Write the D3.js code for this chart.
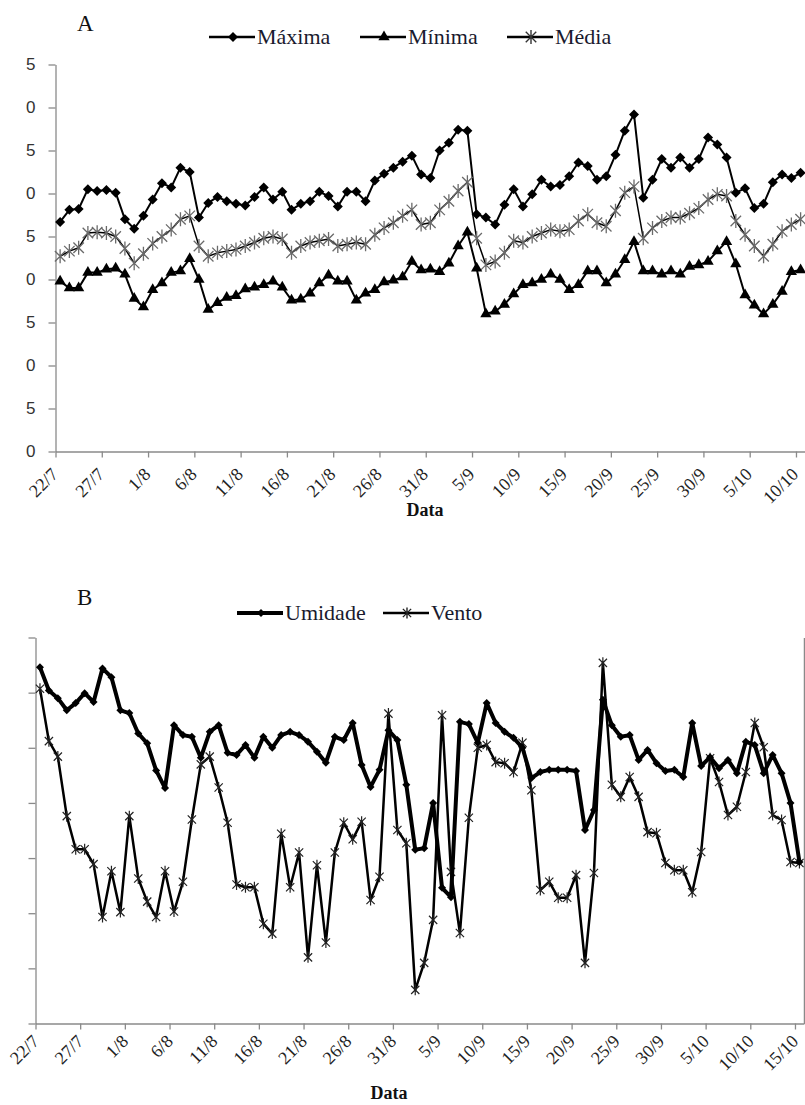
<!DOCTYPE html>
<html><head><meta charset="utf-8">
<script src="https://cdn.jsdelivr.net/npm/d3@7"></script>
<style>body{margin:0;background:#fff}svg{display:block}</style>
</head><body>
<svg id="c" width="805" height="1105"></svg>
<script>
// ---------- DATA ----------
const year = 2010;
const startLabel = "22/7";
const seriesA = ["Máxima", "Mínima", "Média"];
const seriesB = ["Umidade", "Vento"];
const maxima = [26.7,28.1,28.2,30.5,30.3,30.4,30.1,27.0,25.9,27.4,29.3,31.2,30.7,33.0,32.5,27.2,28.9,29.6,29.1,28.8,
  28.6,29.6,30.7,29.3,30.2,28.1,28.8,29.1,30.2,29.7,28.5,30.2,30.2,29.1,31.5,32.3,33.0,33.7,34.4,32.2,
  31.8,35.0,35.9,37.4,37.3,27.6,27.2,26.4,28.7,30.5,28.5,29.9,31.6,30.8,31.0,32.0,33.6,33.2,31.6,32.0,
  34.5,37.3,39.2,29.5,31.6,34.0,33.0,34.2,33.0,34.0,36.5,35.7,34.2,30.1,30.6,28.3,28.8,31.3,32.2,31.8,32.4];
const minima = [19.8,19.0,19.0,20.8,20.8,21.2,21.3,20.6,17.8,16.8,18.8,19.6,20.8,21.0,22.4,20.0,16.5,17.3,17.9,18.1,
  18.9,19.1,19.4,19.8,19.1,17.6,17.7,18.4,19.6,20.5,19.8,19.8,17.6,18.4,18.8,19.7,19.9,20.3,22.1,21.1,
  21.2,20.9,21.9,23.9,25.5,21.3,16.0,16.3,17.1,18.3,19.4,19.6,20.0,20.6,20.0,18.8,19.4,21.0,21.0,19.6,
  20.6,22.3,24.4,21.0,21.0,20.6,21.0,20.6,21.5,21.7,22.1,23.3,24.4,21.8,18.2,17.0,16.0,17.1,18.6,20.9,21.1];
const media = [22.7,23.3,23.7,25.4,25.5,25.4,25.0,23.6,21.9,23.0,24.2,25.0,25.8,27.0,27.4,23.9,22.7,23.1,23.3,23.5,
  23.9,24.3,24.8,25.0,24.7,23.1,23.9,24.3,24.5,24.7,23.9,24.1,24.3,24.1,25.2,26.0,26.6,27.4,28.1,26.4,
  26.6,28.1,29.1,30.3,31.3,24.8,21.7,22.1,23.1,24.5,24.3,25.0,25.4,25.8,25.6,25.8,26.8,27.6,26.6,26.2,
  28.0,30.1,30.8,24.8,26.0,26.8,27.2,27.2,27.7,28.3,29.3,29.9,29.7,26.8,25.2,23.9,22.7,24.1,25.6,26.4,27.0];
const umidade = [94.6,90.4,89.0,86.8,88.1,89.9,88.3,94.4,92.8,86.8,86.3,82.6,80.8,75.9,72.7,84.1,82.3,82.0,78.2,82.9,
  84.1,79.1,78.7,80.5,78.2,82.0,80.0,82.3,82.9,82.3,81.1,79.3,77.3,82.0,81.4,84.5,76.9,72.9,76.0,83.2,
  81.4,73.3,61.5,61.8,70.0,54.6,52.9,84.7,84.3,80.9,88.1,84.5,82.9,81.8,80.0,74.5,75.6,76.0,76.0,76.0,
  75.8,65.1,68.7,88.7,84.1,82.0,82.3,77.8,79.6,77.2,75.8,76.0,74.7,84.5,76.7,78.3,76.3,77.8,75.4,81.1,
  80.5,75.4,78.7,75.4,70.0,59.3];
const vento = [6.07,5.12,4.84,3.76,3.16,3.16,2.89,1.93,2.76,2.02,3.76,2.63,2.21,1.93,2.76,2.03,2.57,3.70,4.70,4.84,
  4.28,3.64,2.52,2.47,2.47,1.81,1.63,3.44,2.47,3.10,1.20,2.87,1.47,3.10,3.64,3.34,3.66,2.24,2.66,5.62,
  3.51,3.27,0.61,1.10,1.88,5.59,2.75,1.64,3.73,5.00,5.05,4.74,4.72,4.56,5.09,4.23,2.42,2.57,2.28,2.28,
  2.69,1.10,2.73,6.54,4.33,4.11,4.47,4.11,3.47,3.45,2.91,2.78,2.78,2.38,3.11,4.81,4.38,3.78,3.93,4.56,
  5.45,5.01,3.78,3.69,2.93,2.91];
const ticksA = ["22/7","27/7","1/8","6/8","11/8","16/8","21/8","26/8","31/8","5/9","10/9","15/9","20/9","25/9","30/9","5/10","10/10"];
const ticksB = ["22/7","27/7","1/8","6/8","11/8","16/8","21/8","26/8","31/8","5/9","10/9","15/9","20/9","25/9","30/9","5/10","10/10","15/10"];
const yTicksA = [0,5,10,15,20,25,30,35,40,45];
const yTicksB = [30,40,50,60,70,80,90,100];

// ---------- HELPERS ----------
const parse = s => d3.timeParse("%d/%m/%Y")(s + "/" + year);
const start = parse(startLabel);
const dayMid = i => d3.timeHour.offset(d3.timeDay.offset(start, i), 12);
const svg = d3.select("#c");
const AX = "#8a8a8a";
const serif = "'Liberation Serif','Times New Roman',serif";
const sans = "'Liberation Sans',Arial,sans-serif";

function diamondPath(s){ return `M0,${-s}L${s},0L0,${s}L${-s},0Z`; }
function asteriskPath(s){ const d = s*0.75; return `M${-d},${-d}L${d},${d}M${-d},${d}L${d},${-d}M0,${-s}L0,${s}`; }
const triSym = d3.symbol().type(d3.symbolTriangle);

function drawMarkers(g, data, x, y, kind, opt){
  const sel = g.selectAll(null).data(data).join("path")
    .attr("transform", (d,i) => `translate(${x(dayMid(i))},${y(d)})`);
  if(kind === "diamond") sel.attr("d", diamondPath(opt.size)).attr("fill", "#000");
  else if(kind === "triangle") sel.attr("d", triSym.size(opt.size)()).attr("fill", "#000");
  else sel.attr("d", asteriskPath(opt.size)).attr("fill","none").attr("stroke", opt.color).attr("stroke-width", opt.sw);
}
function drawLine(g, data, x, y, w){
  g.append("path").datum(data)
    .attr("d", d3.line().x((d,i) => x(dayMid(i))).y(d => y(d)))
    .attr("fill","none").attr("stroke","#000").attr("stroke-width", w).attr("stroke-linejoin","round");
}
function legendItem(g, x0, y0, kind, label, lw, msize, mcol){
  g.append("line").attr("x1", x0).attr("x2", x0+46).attr("y1", y0).attr("y2", y0)
    .attr("stroke","#000").attr("stroke-width", lw);
  const m = g.append("path").attr("transform", `translate(${x0+24},${y0})`);
  if(kind==="diamond") m.attr("d", diamondPath(msize)).attr("fill","#000");
  else if(kind==="triangle") m.attr("d", triSym.size(msize)()).attr("fill","#000");
  else m.attr("d", asteriskPath(msize)).attr("fill","none").attr("stroke", mcol).attr("stroke-width",1.4);
  g.append("text").attr("x", x0+48).attr("y", y0+7).text(label)
    .attr("font-family", serif).attr("font-size", 22).attr("fill", "#1a1a2e");
}
function styleAxis(g){
  g.selectAll(".domain").attr("stroke", AX).attr("stroke-width", 1.3);
  g.selectAll(".tick line").attr("stroke", AX).attr("stroke-width", 1.3);
}

// ---------- PANEL A ----------
const xA = d3.scaleTime().domain([start, parse("15/10")]).range([55.5, 55.5 + 85*9.256]);
const yA = d3.scaleLinear().domain([0,45]).range([451.5, 64.5]);
const gA = svg.append("g");

gA.append("text").attr("x", 77).attr("y", 31).text("A")
  .attr("font-family", serif).attr("font-size", 23).attr("fill","#111");

const axA = gA.append("g").attr("transform", "translate(0,451.5)")
  .call(d3.axisBottom(xA).tickValues(ticksA.map(parse)).tickSize(6).tickSizeOuter(0).tickFormat(d3.timeFormat("%-d/%-m")));
styleAxis(axA);
axA.selectAll(".tick text")
  .attr("font-family", serif).attr("font-size", 18).attr("fill", "#222")
  .attr("text-anchor","end").attr("dy", null).attr("y", 0)
  .attr("transform", "translate(3,24) rotate(-45)");

const ayA = gA.append("g").attr("transform", "translate(55.5,0)")
  .call(d3.axisLeft(yA).tickValues(yTicksA).tickSize(7).tickSizeOuter(0).tickFormat(d => d % 10));
styleAxis(ayA);
ayA.selectAll(".tick text").attr("font-family", sans).attr("font-size", 17).attr("fill","#333").attr("x", -20);

gA.append("text").attr("x", 425).attr("y", 516).attr("text-anchor","middle").text("Data")
  .attr("font-family", serif).attr("font-weight","bold").attr("font-size", 18).attr("fill","#111");

const pA = gA.append("g");
drawLine(pA, maxima, xA, yA, 2);
drawLine(pA, minima, xA, yA, 2);
drawLine(pA, media, xA, yA, 1.5);
drawMarkers(pA, media, xA, yA, "ast", {size:7, color:"#6a6a6a", sw:1.3});
drawMarkers(pA, maxima, xA, yA, "diamond", {size:5});
drawMarkers(pA, minima, xA, yA, "triangle", {size:55});

const lgA = gA.append("g");
const kindsA = ["diamond","triangle","ast"];
const lxA = [209, 360, 507];
seriesA.forEach((s,k) => legendItem(lgA, lxA[k], 37, kindsA[k], s, 2.5, kindsA[k]==="diamond"?5:(kindsA[k]==="triangle"?55:7), "#333"));

// ---------- PANEL B ----------
const xB = d3.scaleTime().domain([start, parse("16/10")]).range([35.5, 35.5 + 86*8.935]);
const yB = d3.scaleLinear().domain([30,100]).range([1023.5, 637.5]);
const yB2 = d3.scaleLinear().domain([0,7]).range([1023.5, 637.5]);
const gB = svg.append("g");

gB.append("text").attr("x", 77).attr("y", 605).text("B")
  .attr("font-family", serif).attr("font-size", 23).attr("fill","#111");

const axB = gB.append("g").attr("transform", "translate(0,1023.5)")
  .call(d3.axisBottom(xB).tickValues(ticksB.map(parse)).tickSize(6).tickSizeOuter(0).tickFormat(d3.timeFormat("%-d/%-m")));
styleAxis(axB);
axB.selectAll(".tick text")
  .attr("font-family", serif).attr("font-size", 18).attr("fill", "#222")
  .attr("text-anchor","end").attr("dy", null).attr("y", 0)
  .attr("transform", "translate(4,19) rotate(-45)");

const ayB = gB.append("g").attr("transform", "translate(35.5,0)")
  .call(d3.axisLeft(yB).tickValues(yTicksB).tickSize(7).tickSizeOuter(0).tickFormat(""));
styleAxis(ayB);
const ayB2 = gB.append("g").attr("transform", `translate(${xB.range()[1]},0)`)
  .call(d3.axisRight(yB2).tickValues([]).tickSizeOuter(0));
styleAxis(ayB2);

gB.append("text").attr("x", 389).attr("y", 1099).attr("text-anchor","middle").text("Data")
  .attr("font-family", serif).attr("font-weight","bold").attr("font-size", 18).attr("fill","#111");

const pB = gB.append("g");
drawLine(pB, vento, xB, yB2, 2.5);
drawMarkers(pB, vento, xB, yB2, "ast", {size:5.5, color:"#222", sw:1.2});
drawLine(pB, umidade, xB, yB, 4);
drawMarkers(pB, umidade, xB, yB, "diamond", {size:4});

const lgB = gB.append("g");
legendItem(lgB, 237, 613, "diamond", seriesB[0], 4, 4, "#000");
legendItem(lgB, 383, 613, "ast", seriesB[1], 2.5, 5.5, "#222");
</script>
</body></html>
